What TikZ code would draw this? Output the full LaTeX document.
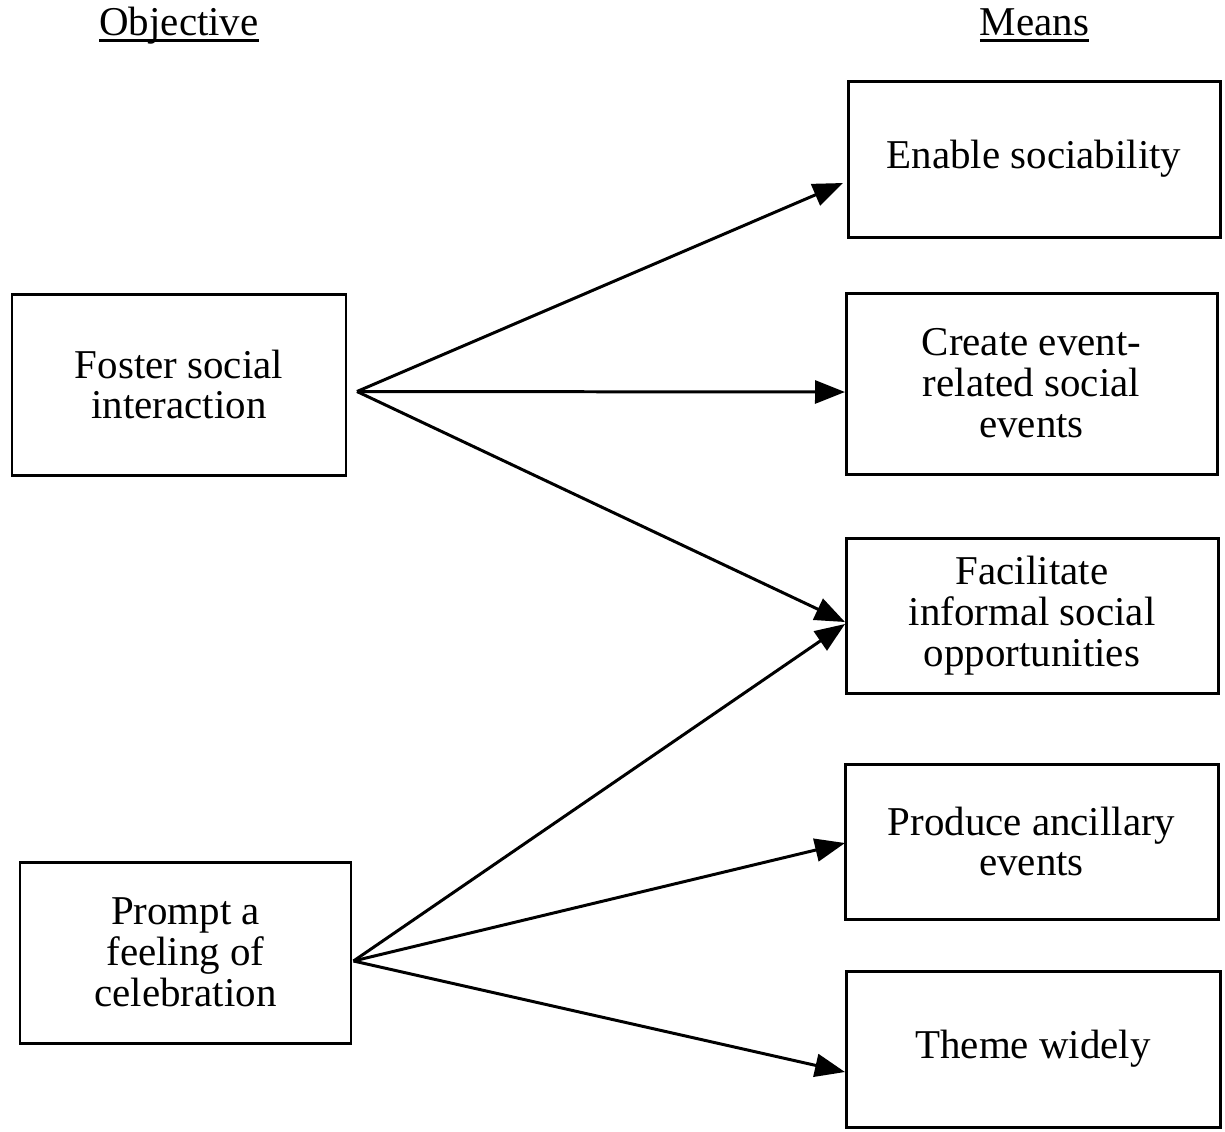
\documentclass[tikz,border=0pt]{standalone}
\usepackage{fontspec}
\setmainfont{Liberation Serif}
\usetikzlibrary{arrows.meta}
\usetikzlibrary{positioning}
\newcommand{\boxfont}{\fontsize{23.3pt}{23.3pt}\selectfont}
\newcommand{\headrule}[1]{\setbox0\hbox{#1}\rlap{\rule[-4.2pt]{\wd0}{1.8pt}}\box0}
\begin{document}
\begin{tikzpicture}[>={Triangle[length=0.6cm,width=0.46cm]}]
      \useasboundingbox (0,0) rectangle (24.5,-22.62);

      \begin{scope}[shape=rectangle,line width=1.7pt,align=center,font=\boxfont]
          \tikzstyle{every node}=[draw]
          \node[minimum width=6.68cm,minimum height=3.62cm] (foster)  at (3.58 ,-7.69)  {Foster social\\interaction};
          \node[minimum width=6.62cm,minimum height=3.62cm] (prompt)  at (3.71 ,-19.05) {Prompt a\\feeling of\\celebration};
          \node[minimum width=7.44cm,minimum height=3.12cm] (enable)  at (20.68,-3.18)  {Enable sociability};
          \node[minimum width=7.42cm,minimum height=3.62cm] (create)  at (20.63,-7.67)  {Create event-\\related social\\events};
          \node[minimum width=7.44cm,minimum height=3.10cm] (facil)   at (20.64,-12.31) {Facilitate\\informal social\\opportunities};
          \node[minimum width=7.46cm,minimum height=3.10cm] (produce) at (20.63,-16.83) {Produce ancillary\\events};
          \node[minimum width=7.48cm,minimum height=3.12cm] (theme)   at (20.66,-20.98) {Theme widely};
      \end{scope}

      \node[anchor=base,font=\boxfont] (objective) at (3.58,-0.70)  {\headrule{Objective}};
      \node[anchor=base,font=\boxfont] (means)     at (20.69,-0.70) {\headrule{Means}};

      % arrow ends
      \coordinate (fo) at (7.14,-7.83);
      \coordinate (po) at (7.07,-19.22);
      \coordinate (enable_in)  at (16.86,-3.66);
      \coordinate (create_in)  at (16.9,-7.84);
      \coordinate (facil_in1)  at (16.9,-12.44);
      \coordinate (facil_in2)  at (16.9,-12.48);
      \coordinate (produce_in) at (16.9,-16.86);
      \coordinate (theme_in)   at (16.9,-21.44);

      \draw[->,line width=1.7pt] (fo) -- (enable_in);
      \draw[->,line width=1.7pt] (fo) -- (create_in);
      \draw[->,line width=1.7pt] (fo) -- (facil_in1);
      \draw[->,line width=1.7pt] (po) -- (facil_in2);
      \draw[->,line width=1.7pt] (po) -- (produce_in);
      \draw[->,line width=1.7pt] (po) -- (theme_in);
\end{tikzpicture}
\end{document}
